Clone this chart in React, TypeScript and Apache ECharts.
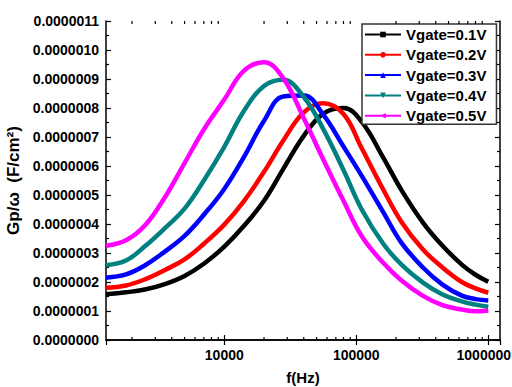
import React, { useEffect, useRef } from "react";
import * as echarts from "echarts";

// Frequencies (Hz) at which the curves were read
const freqHz = [
  1270, 1800, 2500, 3500, 5000, 7000, 10000, 14000, 20000, 28000, 40000,
  56000, 80000, 110000, 160000, 220000, 320000, 450000, 630000, 800000, 1000000,
];

// Gp/ω values in units of 1e-7 F/cm²
const gpV01 = [1.58, 1.645, 1.74, 1.92, 2.21, 2.63, 3.22, 3.92, 4.8, 5.9, 7.04, 7.8, 8.0, 7.52, 6.29, 5.17, 4.05, 3.25, 2.6, 2.25, 2.01];
const gpV02 = [1.8, 1.88, 2.09, 2.4, 2.78, 3.32, 3.98, 4.77, 5.8, 6.88, 7.85, 8.16, 7.79, 6.61, 5.19, 4.07, 3.12, 2.5, 2.0, 1.78, 1.63];
const gpV03 = [2.15, 2.26, 2.57, 3.03, 3.59, 4.32, 5.21, 6.29, 7.56, 8.4, 8.43, 7.78, 6.67, 5.66, 4.41, 3.35, 2.5, 1.91, 1.53, 1.41, 1.36];
const gpV04 = [2.58, 2.74, 3.23, 3.83, 4.53, 5.5, 6.66, 7.88, 8.76, 8.97, 8.38, 7.29, 5.86, 4.5, 3.32, 2.6, 1.98, 1.57, 1.33, 1.22, 1.15];
const gpV05 = [3.25, 3.44, 3.95, 4.88, 6.1, 7.26, 8.29, 9.27, 9.58, 9.02, 7.65, 6.24, 4.8, 3.58, 2.66, 2.05, 1.52, 1.2, 1.05, 0.99, 1.02];

const seriesNames = ["Vgate=0.1V", "Vgate=0.2V", "Vgate=0.3V", "Vgate=0.4V", "Vgate=0.5V"];
const seriesValues = [gpV01, gpV02, gpV03, gpV04, gpV05];
const seriesColors = ["#000000", "#ff0000", "#0000ff", "#008080", "#ff00ff"];
const seriesSymbols = [
  "rect",
  "circle",
  "triangle",
  "path://M0,0 L10,0 L5,10 Z",
  "path://M10,0 L0,5 L10,10 Z",
];

const UNIT = 1e-7;
const yMin = 0;
const yMax = 11;
const xMin = 1270;
const xMax = 1227000;
const minorTickFreqs = [
  2000, 3000, 4000, 5000, 6000, 7000, 8000, 9000,
  20000, 30000, 40000, 50000, 60000, 70000, 80000, 90000,
  200000, 300000, 400000, 500000, 600000, 700000, 800000, 900000,
];

const xTitle = "f(Hz)";
const yTitle = "Gp/ω  (F/cm²)";

const FONT = "'Liberation Sans', Arial, Helvetica, sans-serif";

export default function App() {
  const ref = useRef<HTMLDivElement>(null);

  useEffect(() => {
    if (!ref.current) return;
    const chart = echarts.init(ref.current, null, { renderer: "svg" });

    const axisLine = { show: true, lineStyle: { color: "#000", width: 1.5 } };
    const axisTick = { show: true, inside: true, length: 5, lineStyle: { color: "#000", width: 1.2 } };
    const labelStyle = { fontFamily: FONT, fontWeight: "bold" as const, fontSize: 14, color: "#000" };

    const lineSeries = seriesNames.map((name, i) => ({
      type: "line" as const,
      name,
      data: freqHz.map((f, j) => [f, seriesValues[i][j]]),
      showSymbol: false,
      symbol: seriesSymbols[i],
      symbolSize: 6,
      smooth: 0.4,
      lineStyle: { width: 4.5, color: seriesColors[i] },
      itemStyle: { color: seriesColors[i] },
      z: 3 + i,
    }));

    const option: any = {
      animation: false,
      backgroundColor: "#fff",
      grid: { left: 106, right: 12, top: 21, bottom: 47, containLabel: false, outerBoundsMode: "none" },
      legend: {
        data: seriesNames,
        orient: "vertical",
        left: 362,
        top: 24,
        padding: [3, 10, 1, 2],
        itemWidth: 36,
        itemHeight: 7,
        itemGap: 5.3,
        backgroundColor: "#fff",
        borderColor: "#333",
        borderWidth: 1.5,
        lineStyle: { width: 2 },
        textStyle: { fontFamily: FONT, fontWeight: "bold", fontSize: 15, color: "#000" },
        z: 10,
      },
      xAxis: [
        {
          type: "log",
          logBase: 10,
          min: xMin,
          max: xMax,
          position: "bottom",
          name: xTitle,
          nameLocation: "middle",
          nameGap: 30,
          nameTextStyle: { fontFamily: FONT, fontWeight: "bold", fontSize: 15, color: "#000" },
          axisLine,
          axisTick,
          axisLabel: {
            ...labelStyle,
            margin: 8,
            showMinLabel: false,
            showMaxLabel: false,
            formatter: (v: number) => {
              const s = String(Math.round(v));
              return v >= 999999 ? `{m|${s}}` : s;
            },
            rich: {
              m: { ...labelStyle, padding: [0, 9, 0, 0] },
            },
          },
          splitLine: { show: false },
          minorTick: { show: false },
        },
        {
          type: "log",
          logBase: 10,
          min: xMin,
          max: xMax,
          position: "top",
          axisLine,
          axisTick,
          axisLabel: { show: false },
          splitLine: { show: false },
        },
      ],
      yAxis: [
        {
          type: "value",
          min: yMin,
          max: yMax,
          interval: 1,
          position: "left",
          name: yTitle,
          nameLocation: "middle",
          nameGap: 75,
          nameTextStyle: {
            fontFamily: FONT,
            fontWeight: "bold",
            fontSize: 17,
            color: "#000",
          },
          axisLine,
          axisTick,
          minorTick: { show: true, splitNumber: 2, length: 3, lineStyle: { color: "#000", width: 1.2 } },
          axisLabel: {
            ...labelStyle,
            margin: 7,
            formatter: (v: number) => (v * UNIT).toFixed(7),
          },
          splitLine: { show: false },
          minorSplitLine: { show: false },
        },
        {
          type: "value",
          min: yMin,
          max: yMax,
          interval: 1,
          position: "right",
          axisLine,
          axisTick,
          minorTick: { show: true, splitNumber: 2, length: 3, lineStyle: { color: "#000", width: 1.2 } },
          axisLabel: { show: false },
          splitLine: { show: false },
        },
      ],
      series: [
        ...lineSeries,
        {
          type: "custom",
          name: "minorTicks",
          xAxisIndex: 0,
          yAxisIndex: 0,
          silent: true,
          clip: false,
          z: 20,
          data: minorTickFreqs.map((f) => [f, yMin]),
          renderItem: (_params: any, api: any) => {
            const f = api.value(0);
            const b = api.coord([f, yMin]);
            const t = api.coord([f, yMax]);
            const style = { stroke: "#000", lineWidth: 1.2 };
            return {
              type: "group",
              children: [
                { type: "line", shape: { x1: b[0], y1: b[1], x2: b[0], y2: b[1] - 3 }, style },
                { type: "line", shape: { x1: t[0], y1: t[1], x2: t[0], y2: t[1] + 3 }, style },
              ],
            };
          },
        },
      ],
    };

    chart.setOption(option);
    return () => chart.dispose();
  }, []);

  return (
    <div
      ref={ref}
      style={{ position: "fixed", left: 0, top: 0, width: 512, height: 387 }}
    />
  );
}
